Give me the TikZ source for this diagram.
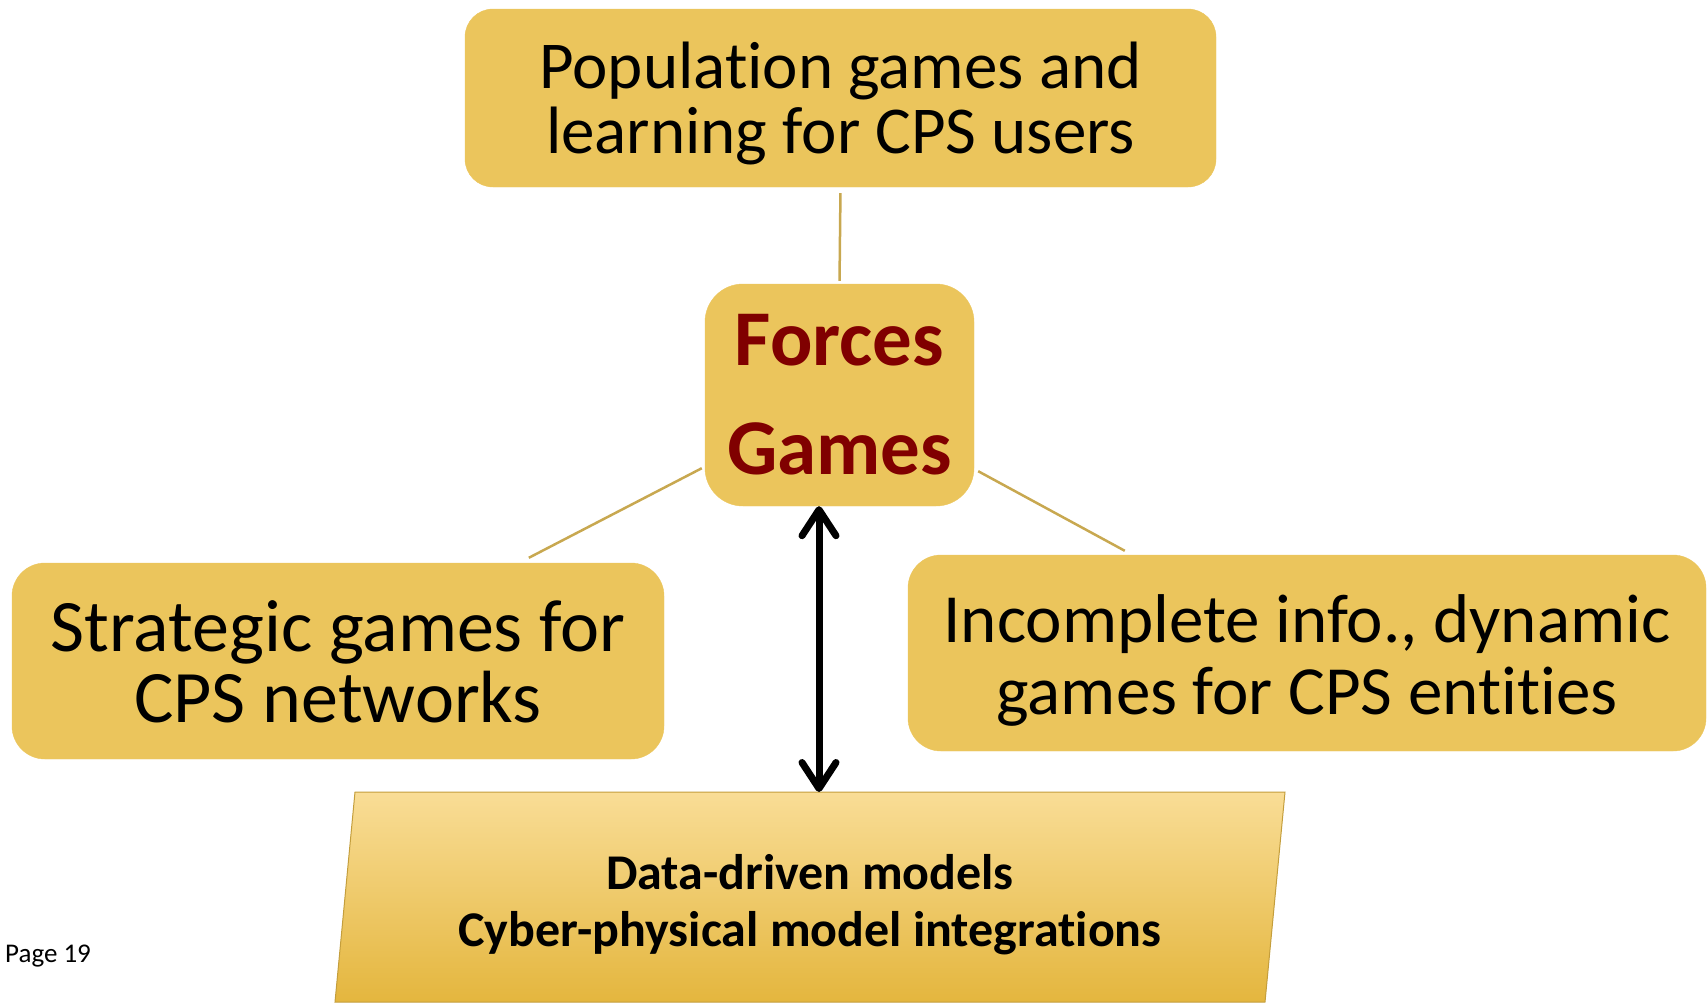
\documentclass[tikz,border=0pt]{standalone}
\usepackage{fontspec}
\setmainfont{Carlito}[Ligatures=NoCommon]
\usetikzlibrary{arrows.meta,calc}
\definecolor{boxgold}{RGB}{235,197,92}
\definecolor{linkgold}{RGB}{200,168,80}
\definecolor{forcered}{RGB}{128,0,0}
\definecolor{basetop}{RGB}{249,221,150}
\definecolor{basebot}{RGB}{228,182,62}
\definecolor{baseedge}{RGB}{196,158,60}
\tikzset{
  topicbox/.style={fill=boxgold, draw=boxgold, rounded corners=28pt, inner sep=0pt},
  topictext/.style={align=center, inner sep=0pt, text=black},
  link/.style={draw=linkgold, line width=2.5pt},
  bothway/.style={line width=7pt, {Straight Barb[length=26pt,width=34pt,round]}-{Straight Barb[length=26pt,width=34pt,round]}},
}
\begin{document}
\begin{tikzpicture}[x=1pt,y=-1pt]
\useasboundingbox (0,0) rectangle (1707,1002);

% foundation layer: slanted panel running off the page bottom
\shade[top color=basetop, bottom color=basebot, draw=baseedge, line width=1pt]
  (355,792) -- (1285,792) -- (1265,1002) -- (335,1002) -- cycle;
\node[topictext, font=\bfseries\fontsize{50}{57}\selectfont] (base) at (810,905)
  {Data-driven models\\Cyber-physical model integrations};
\coordinate (basetopmid) at (819,792);

% topic boxes
\node[topicbox, minimum width=751pt, minimum height=178pt] (top) at (840.5,98) {};
\node[topictext, font=\fontsize{67}{65}\selectfont] (toptext) at ($(top.center)+(0,5)$)
  {Population games and\\learning for CPS users};

\node[topicbox, rounded corners=38pt, minimum width=269pt, minimum height=222pt] (forces) at (839.5,395) {};
\node[topictext, text=forcered, font=\bfseries\fontsize{79}{109}\selectfont] (forcestext) at (forces.center)
  {Forces\\Games};

\node[topicbox, rounded corners=33pt, minimum width=652pt, minimum height=196pt] (left) at (338,661) {};
\node[topictext, font=\fontsize{74}{71}\selectfont] (lefttext) at ($(left.center)+(0,1)$)
  {Strategic games for\\CPS networks};

\node[topicbox, rounded corners=33pt, minimum width=798pt, minimum height=196pt] (right) at (1307,653) {};
\node[topictext, font=\fontsize{69}{72}\selectfont] (righttext) at ($(right.center)+(0,7)$)
  {Incomplete info., dynamic\\games for CPS entities};

% connectors
\draw[link, shorten <=6pt, shorten >=3pt] (top.south) -- (forces.north);
\draw[link] ($(forces.south west)+(-3,-38)$) -- ($(left.north west)+(517,-5)$);
\draw[link] ($(forces.south east)+(4,-35)$) -- ($(right.north west)+(217,-4)$);
\draw[bothway] (forces.south -| basetopmid) -- (basetopmid);

% footer
\node[anchor=west, font=\fontsize{27}{30}\selectfont, inner sep=0pt] (page) at (5,956) {Page 19};
\end{tikzpicture}
\end{document}
